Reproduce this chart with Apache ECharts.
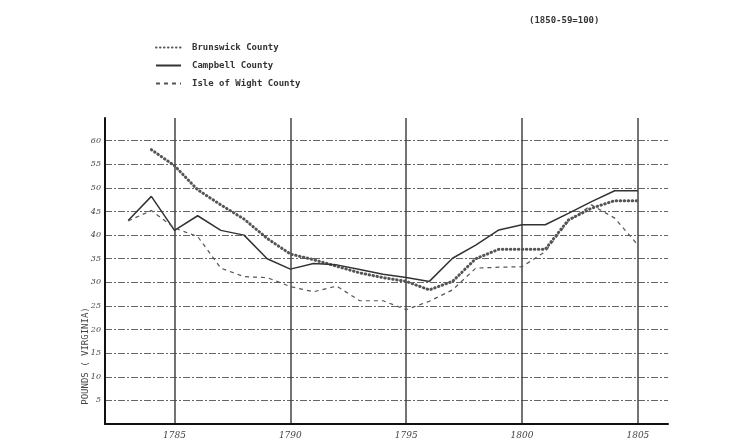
<!DOCTYPE html>
<html>
	<head>
		<meta charset="UTF-8">
		<title>Pounds (Virginia) index</title>
		<script src="https://cdn.jsdelivr.net/npm/echarts@6/dist/echarts.min.js" type="text/javascript" charset="utf-8"></script>
		<style>
			body { margin: 0; background: #fff; }
			#chart { width: 747px; height: 443px; }
		</style>
	</head>
	<body>
		<div id="chart"></div>
		<script type="text/javascript">
			// 数据
			var years = [1783, 1784, 1785, 1786, 1787, 1788, 1789, 1790, 1791, 1792, 1793, 1794,
				1795, 1796, 1797, 1798, 1799, 1800, 1801, 1802, 1803, 1804, 1805];
			var brunswick = [null, 58.1, 54.7, 49.6, 46.4, 43.4, 39.3, 36.0, 34.8, 33.4, 32.0, 31.0,
				30.2, 28.4, 30.2, 35.0, 37.0, 37.0, 37.0, 43.2, 45.7, 47.3, 47.3];
			var campbell = [43.1, 48.2, 41.0, 44.1, 41.0, 40.0, 35.0, 32.8, 34.0, 33.7, 32.7, 31.7,
				31.0, 30.2, 35.1, 37.9, 41.1, 42.2, 42.2, 44.6, 47.1, 49.4, 49.4];
			var isleOfWight = [43.0, 45.2, 41.5, 39.7, 33.0, 31.2, 31.0, 29.1, 28.0, 29.2, 26.1, 26.1,
				24.2, 26.0, 28.4, 33.0, 33.2, 33.3, 36.5, 42.9, 46.4, 43.6, 37.9];
			var xTicks = [1785, 1790, 1795, 1800, 1805];
			var yTicks = [0, 5, 10, 15, 20, 25, 30, 35, 40, 45, 50, 55, 60];
			var yLabels = [5, 10, 15, 20, 25, 30, 35, 40, 45, 50, 55, 60];

			function pairs(arr) {
				var out = [];
				for (var i = 0; i < years.length; i++) {
					if (arr[i] !== null) out.push([years[i], arr[i]]);
				}
				return out;
			}

			var handFont = '"DejaVu Serif", serif';
			var typeFont = '"DejaVu Sans Mono", "Liberation Mono", monospace';

			var myChart = echarts.init(document.getElementById('chart'));
			var option = {
				backgroundColor: '#fff',
				animation: false,
				title: {
					text: '(1850-59=100)',
					left: 524,
					top: 11,
					textStyle: { fontFamily: typeFont, fontSize: 9, fontWeight: 'bold', color: '#333' }
				},
				legend: {
					orient: 'vertical',
					left: 150,
					top: 38,
					itemWidth: 25,
					itemHeight: 10,
					itemGap: 9,
					itemStyle: { opacity: 0 },
					textStyle: { fontFamily: typeFont, fontSize: 9, fontWeight: 'bold', color: '#333', padding: [0, 0, 0, 6] },
					data: ['Brunswick County', 'Campbell County', 'Isle of Wight County']
				},
				graphic: [{
					type: 'text',
					x: 86,
					y: 356,
					rotation: Math.PI / 2,
					style: {
						text: 'POUNDS ( VIRGINIA)',
						font: '9px ' + typeFont,
						fill: '#444',
						align: 'center',
						verticalAlign: 'middle'
					}
				}],
				grid: { left: 105, right: 79, top: 118, bottom: 19 },
				xAxis: {
					type: 'value',
					min: 1782,
					max: 1806.3,
					axisLine: { lineStyle: { color: '#111', width: 2 } },
					axisTick: { show: false, customValues: xTicks },
					axisLabel: {
						customValues: xTicks,
						margin: 7,
						fontFamily: handFont,
						fontStyle: 'italic',
						fontSize: 9,
						color: '#444',
						formatter: function (v) { return String(v); }
					},
					splitLine: { show: true, lineStyle: { color: '#444', width: 1.5 } }
				},
				yAxis: {
					type: 'value',
					min: 0,
					max: 64.8,
					axisLine: { show: true, lineStyle: { color: '#111', width: 2 } },
					axisTick: { show: false, customValues: yTicks },
					axisLabel: {
						customValues: yLabels,
						margin: 4,
						fontFamily: handFont,
						fontStyle: 'italic',
						fontSize: 8,
						color: '#444'
					},
					splitLine: { show: true, lineStyle: { color: '#666', width: 1, type: [7, 2, 2, 2] } }
				},
				series: [
					{
						name: 'Brunswick County',
						type: 'line',
						symbol: 'none',
						data: pairs(brunswick),
						lineStyle: { color: '#555', width: 3, type: [0.5, 3.5], cap: 'round' },
						itemStyle: { color: '#555' }
					},
					{
						name: 'Campbell County',
						type: 'line',
						symbol: 'none',
						data: pairs(campbell),
						lineStyle: { color: '#333', width: 1.5, type: 'solid' },
						itemStyle: { color: '#333' }
					},
					{
						name: 'Isle of Wight County',
						type: 'line',
						symbol: 'none',
						data: pairs(isleOfWight),
						lineStyle: { color: '#555', width: 1.2, type: [4, 4] },
						itemStyle: { color: '#555' }
					}
				]
			};
			myChart.setOption(option);
		</script>
	</body>
</html>
